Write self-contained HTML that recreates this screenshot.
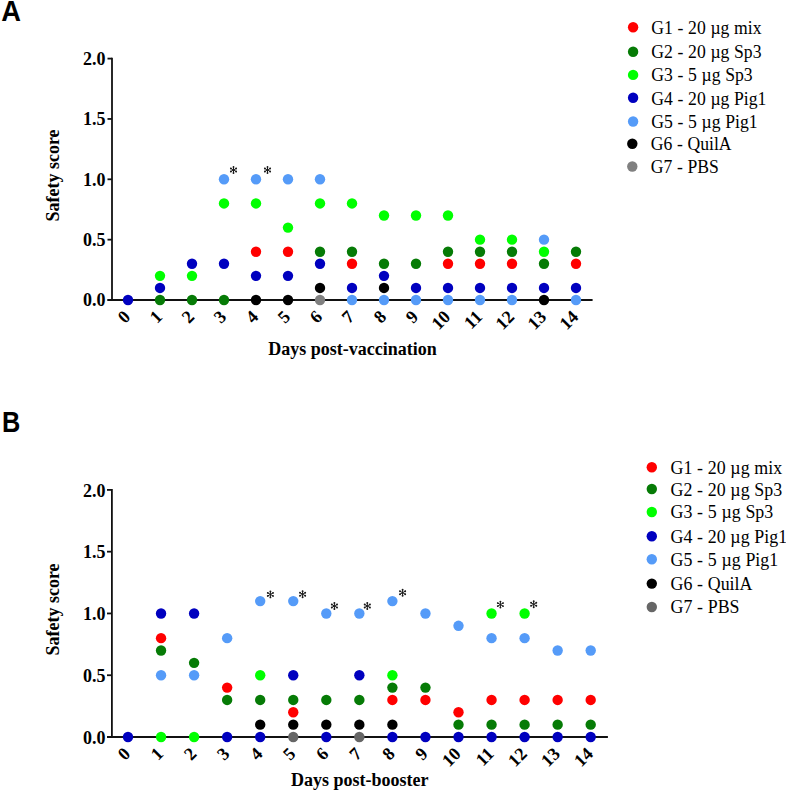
<!DOCTYPE html>
<html><head><meta charset="utf-8"><style>
html,body{margin:0;padding:0;background:#fff;}
body{width:786px;height:791px;overflow:hidden;}
svg{display:block;}
.yt{font-family:"Liberation Serif",serif;font-weight:bold;font-size:18px;text-anchor:end;fill:#000;}
.xt{font-family:"Liberation Serif",serif;font-weight:bold;font-size:18px;text-anchor:end;fill:#000;}
.ttl{font-family:"Liberation Serif",serif;font-weight:bold;font-size:18px;fill:#000;}
.lg{font-family:"Liberation Serif",serif;font-size:19.5px;word-spacing:0.3px;fill:#000;}
.pl{font-family:"Liberation Sans",sans-serif;font-weight:bold;font-size:28.6px;fill:#000;}
</style></head><body>
<svg width="786" height="791" viewBox="0 0 786 791">
<text class="pl" transform="translate(1.3 20.9) scale(0.955 1)">A</text>
<path d="M112 57.7V300" stroke="#111" stroke-width="1.8" fill="none"/>
<path d="M107.5 300H592.6" stroke="#111" stroke-width="1.8" fill="none"/>
<path d="M107.5 300H112" stroke="#111" stroke-width="1.8"/>
<text class="yt" x="105.5" y="306.4">0.0</text>
<path d="M107.5 239.65H112" stroke="#111" stroke-width="1.8"/>
<text class="yt" x="105.5" y="246.05">0.5</text>
<path d="M107.5 179.3H112" stroke="#111" stroke-width="1.8"/>
<text class="yt" x="105.5" y="185.7">1.0</text>
<path d="M107.5 118.95H112" stroke="#111" stroke-width="1.8"/>
<text class="yt" x="105.5" y="125.35">1.5</text>
<path d="M107.5 58.6H112" stroke="#111" stroke-width="1.8"/>
<text class="yt" x="105.5" y="65">2.0</text>
<text class="xt" transform="translate(131.4 318) rotate(-45)">0</text>
<text class="xt" transform="translate(163.4 318) rotate(-45)">1</text>
<text class="xt" transform="translate(195.4 318) rotate(-45)">2</text>
<text class="xt" transform="translate(227.4 318) rotate(-45)">3</text>
<text class="xt" transform="translate(259.4 318) rotate(-45)">4</text>
<text class="xt" transform="translate(291.4 318) rotate(-45)">5</text>
<text class="xt" transform="translate(323.4 318) rotate(-45)">6</text>
<text class="xt" transform="translate(355.4 318) rotate(-45)">7</text>
<text class="xt" transform="translate(387.4 318) rotate(-45)">8</text>
<text class="xt" transform="translate(419.4 318) rotate(-45)">9</text>
<text class="xt" transform="translate(451.4 318) rotate(-45)">10</text>
<text class="xt" transform="translate(483.4 318) rotate(-45)">11</text>
<text class="xt" transform="translate(515.4 318) rotate(-45)">12</text>
<text class="xt" transform="translate(547.4 318) rotate(-45)">13</text>
<text class="xt" transform="translate(579.4 318) rotate(-45)">14</text>
<text class="ttl" x="352.5" y="354.5" text-anchor="middle">Days post-vaccination</text>
<text class="ttl" transform="translate(59 175.5) rotate(-90)" text-anchor="middle">Safety score</text>
<circle cx="128" cy="300" r="5.2" fill="#0000bf"/>
<circle cx="160" cy="275.86" r="5.2" fill="#00ff00"/>
<circle cx="160" cy="287.93" r="5.2" fill="#0000bf"/>
<circle cx="160" cy="300" r="5.2" fill="#067b06"/>
<circle cx="192" cy="263.79" r="5.2" fill="#0000bf"/>
<circle cx="192" cy="275.86" r="5.2" fill="#00ff00"/>
<circle cx="192" cy="300" r="5.2" fill="#067b06"/>
<circle cx="224" cy="179.3" r="5.2" fill="#559bf8"/>
<circle cx="224" cy="203.44" r="5.2" fill="#00ff00"/>
<circle cx="224" cy="263.79" r="5.2" fill="#0000bf"/>
<circle cx="224" cy="300" r="5.2" fill="#067b06"/>
<circle cx="256" cy="179.3" r="5.2" fill="#559bf8"/>
<circle cx="256" cy="203.44" r="5.2" fill="#00ff00"/>
<circle cx="256" cy="251.72" r="5.2" fill="#ff0000"/>
<circle cx="256" cy="275.86" r="5.2" fill="#0000bf"/>
<circle cx="256" cy="300" r="5.2" fill="#000000"/>
<circle cx="288" cy="179.3" r="5.2" fill="#559bf8"/>
<circle cx="288" cy="227.58" r="5.2" fill="#00ff00"/>
<circle cx="288" cy="251.72" r="5.2" fill="#ff0000"/>
<circle cx="288" cy="275.86" r="5.2" fill="#0000bf"/>
<circle cx="288" cy="300" r="5.2" fill="#000000"/>
<circle cx="320" cy="179.3" r="5.2" fill="#559bf8"/>
<circle cx="320" cy="203.44" r="5.2" fill="#00ff00"/>
<circle cx="320" cy="251.72" r="5.2" fill="#067b06"/>
<circle cx="320" cy="263.79" r="5.2" fill="#0000bf"/>
<circle cx="320" cy="287.93" r="5.2" fill="#000000"/>
<circle cx="320" cy="300" r="5.2" fill="#808080"/>
<circle cx="352" cy="203.44" r="5.2" fill="#00ff00"/>
<circle cx="352" cy="251.72" r="5.2" fill="#067b06"/>
<circle cx="352" cy="263.79" r="5.2" fill="#ff0000"/>
<circle cx="352" cy="287.93" r="5.2" fill="#0000bf"/>
<circle cx="352" cy="300" r="5.2" fill="#559bf8"/>
<circle cx="384" cy="215.51" r="5.2" fill="#00ff00"/>
<circle cx="384" cy="263.79" r="5.2" fill="#067b06"/>
<circle cx="384" cy="275.86" r="5.2" fill="#0000bf"/>
<circle cx="384" cy="287.93" r="5.2" fill="#000000"/>
<circle cx="384" cy="300" r="5.2" fill="#559bf8"/>
<circle cx="416" cy="215.51" r="5.2" fill="#00ff00"/>
<circle cx="416" cy="263.79" r="5.2" fill="#067b06"/>
<circle cx="416" cy="287.93" r="5.2" fill="#0000bf"/>
<circle cx="416" cy="300" r="5.2" fill="#559bf8"/>
<circle cx="448" cy="215.51" r="5.2" fill="#00ff00"/>
<circle cx="448" cy="251.72" r="5.2" fill="#067b06"/>
<circle cx="448" cy="263.79" r="5.2" fill="#ff0000"/>
<circle cx="448" cy="287.93" r="5.2" fill="#0000bf"/>
<circle cx="448" cy="300" r="5.2" fill="#559bf8"/>
<circle cx="480" cy="239.65" r="5.2" fill="#00ff00"/>
<circle cx="480" cy="251.72" r="5.2" fill="#067b06"/>
<circle cx="480" cy="263.79" r="5.2" fill="#ff0000"/>
<circle cx="480" cy="287.93" r="5.2" fill="#0000bf"/>
<circle cx="480" cy="300" r="5.2" fill="#559bf8"/>
<circle cx="512" cy="239.65" r="5.2" fill="#00ff00"/>
<circle cx="512" cy="251.72" r="5.2" fill="#067b06"/>
<circle cx="512" cy="263.79" r="5.2" fill="#ff0000"/>
<circle cx="512" cy="287.93" r="5.2" fill="#0000bf"/>
<circle cx="512" cy="300" r="5.2" fill="#559bf8"/>
<circle cx="544" cy="239.65" r="5.2" fill="#559bf8"/>
<circle cx="544" cy="251.72" r="5.2" fill="#00ff00"/>
<circle cx="544" cy="263.79" r="5.2" fill="#067b06"/>
<circle cx="544" cy="287.93" r="5.2" fill="#0000bf"/>
<circle cx="544" cy="300" r="5.2" fill="#000000"/>
<circle cx="576" cy="251.72" r="5.2" fill="#067b06"/>
<circle cx="576" cy="263.79" r="5.2" fill="#ff0000"/>
<circle cx="576" cy="287.93" r="5.2" fill="#0000bf"/>
<circle cx="576" cy="300" r="5.2" fill="#559bf8"/>
<path d="M233.5 167L233.5 173M230.9 168.5L236.1 171.5M230.9 171.5L236.1 168.5" stroke="#1a1a1a" stroke-width="1.0" stroke-linecap="round"/><circle cx="233.5" cy="167" r="0.95" fill="#1a1a1a"/><circle cx="233.5" cy="173" r="0.95" fill="#1a1a1a"/><circle cx="230.9" cy="168.5" r="0.95" fill="#1a1a1a"/><circle cx="236.1" cy="171.5" r="0.95" fill="#1a1a1a"/><circle cx="230.9" cy="171.5" r="0.95" fill="#1a1a1a"/><circle cx="236.1" cy="168.5" r="0.95" fill="#1a1a1a"/>
<path d="M267.5 167L267.5 173M264.9 168.5L270.1 171.5M264.9 171.5L270.1 168.5" stroke="#1a1a1a" stroke-width="1.0" stroke-linecap="round"/><circle cx="267.5" cy="167" r="0.95" fill="#1a1a1a"/><circle cx="267.5" cy="173" r="0.95" fill="#1a1a1a"/><circle cx="264.9" cy="168.5" r="0.95" fill="#1a1a1a"/><circle cx="270.1" cy="171.5" r="0.95" fill="#1a1a1a"/><circle cx="264.9" cy="171.5" r="0.95" fill="#1a1a1a"/><circle cx="270.1" cy="168.5" r="0.95" fill="#1a1a1a"/>
<circle cx="633.1" cy="27.2" r="5.2" fill="#ff0000"/>
<text class="lg" transform="translate(651.3 34) scale(0.905 1)">G1 - 20 µg mix</text>
<circle cx="633.1" cy="51.7" r="5.2" fill="#067b06"/>
<text class="lg" transform="translate(651.3 58.2) scale(0.905 1)">G2 - 20 µg Sp3</text>
<circle cx="633.1" cy="74.9" r="5.2" fill="#00ff00"/>
<text class="lg" transform="translate(651.3 81) scale(0.905 1)">G3 - 5 µg Sp3</text>
<circle cx="633.1" cy="97.7" r="5.2" fill="#0000bf"/>
<text class="lg" transform="translate(651.3 104.6) scale(0.905 1)">G4 - 20 µg Pig1</text>
<circle cx="633.1" cy="121.5" r="5.2" fill="#559bf8"/>
<text class="lg" transform="translate(651.3 128.1) scale(0.905 1)">G5 - 5 µg Pig1</text>
<circle cx="632.3" cy="143.7" r="5.2" fill="#000000"/>
<text class="lg" transform="translate(650.7 149.7) scale(0.905 1)">G6 - QuilA</text>
<circle cx="632.3" cy="166.5" r="5.2" fill="#808080"/>
<text class="lg" transform="translate(650.7 172.5) scale(0.905 1)">G7 - PBS</text>
<text class="pl" transform="translate(1.9 431.5) scale(0.885 1)">B</text>
<path d="M111.9 489V737" stroke="#111" stroke-width="1.8" fill="none"/>
<path d="M107 737H607.9" stroke="#111" stroke-width="1.8" fill="none"/>
<path d="M107 737H111.9" stroke="#111" stroke-width="1.8"/>
<text class="yt" x="105.5" y="743.6">0.0</text>
<path d="M107 675.23H111.9" stroke="#111" stroke-width="1.8"/>
<text class="yt" x="105.5" y="681.83">0.5</text>
<path d="M107 613.45H111.9" stroke="#111" stroke-width="1.8"/>
<text class="yt" x="105.5" y="620.05">1.0</text>
<path d="M107 551.67H111.9" stroke="#111" stroke-width="1.8"/>
<text class="yt" x="105.5" y="558.27">1.5</text>
<path d="M107 489.9H111.9" stroke="#111" stroke-width="1.8"/>
<text class="yt" x="105.5" y="496.5">2.0</text>
<text class="xt" transform="translate(131.4 755) rotate(-45)">0</text>
<text class="xt" transform="translate(164.45 755) rotate(-45)">1</text>
<text class="xt" transform="translate(197.5 755) rotate(-45)">2</text>
<text class="xt" transform="translate(230.55 755) rotate(-45)">3</text>
<text class="xt" transform="translate(263.6 755) rotate(-45)">4</text>
<text class="xt" transform="translate(296.65 755) rotate(-45)">5</text>
<text class="xt" transform="translate(329.7 755) rotate(-45)">6</text>
<text class="xt" transform="translate(362.75 755) rotate(-45)">7</text>
<text class="xt" transform="translate(395.8 755) rotate(-45)">8</text>
<text class="xt" transform="translate(428.85 755) rotate(-45)">9</text>
<text class="xt" transform="translate(461.9 755) rotate(-45)">10</text>
<text class="xt" transform="translate(494.95 755) rotate(-45)">11</text>
<text class="xt" transform="translate(528 755) rotate(-45)">12</text>
<text class="xt" transform="translate(561.05 755) rotate(-45)">13</text>
<text class="xt" transform="translate(594.1 755) rotate(-45)">14</text>
<text class="ttl" x="359.7" y="785.9" text-anchor="middle">Days post-booster</text>
<text class="ttl" transform="translate(59 609.5) rotate(-90)" text-anchor="middle">Safety score</text>
<circle cx="128" cy="737" r="5.2" fill="#0000bf"/>
<circle cx="161.05" cy="613.45" r="5.2" fill="#0000bf"/>
<circle cx="161.05" cy="638.16" r="5.2" fill="#ff0000"/>
<circle cx="161.05" cy="650.51" r="5.2" fill="#067b06"/>
<circle cx="161.05" cy="675.23" r="5.2" fill="#559bf8"/>
<circle cx="161.05" cy="737" r="5.2" fill="#00ff00"/>
<circle cx="194.1" cy="613.45" r="5.2" fill="#0000bf"/>
<circle cx="194.1" cy="662.87" r="5.2" fill="#067b06"/>
<circle cx="194.1" cy="675.23" r="5.2" fill="#559bf8"/>
<circle cx="194.1" cy="737" r="5.2" fill="#00ff00"/>
<circle cx="227.15" cy="638.16" r="5.2" fill="#559bf8"/>
<circle cx="227.15" cy="687.58" r="5.2" fill="#ff0000"/>
<circle cx="227.15" cy="699.93" r="5.2" fill="#067b06"/>
<circle cx="227.15" cy="737" r="5.2" fill="#0000bf"/>
<circle cx="260.2" cy="601.1" r="5.2" fill="#559bf8"/>
<circle cx="260.2" cy="675.23" r="5.2" fill="#00ff00"/>
<circle cx="260.2" cy="699.93" r="5.2" fill="#067b06"/>
<circle cx="260.2" cy="724.64" r="5.2" fill="#000000"/>
<circle cx="260.2" cy="737" r="5.2" fill="#0000bf"/>
<circle cx="293.25" cy="601.1" r="5.2" fill="#559bf8"/>
<circle cx="293.25" cy="675.23" r="5.2" fill="#0000bf"/>
<circle cx="293.25" cy="699.93" r="5.2" fill="#067b06"/>
<circle cx="293.25" cy="712.29" r="5.2" fill="#ff0000"/>
<circle cx="293.25" cy="724.64" r="5.2" fill="#000000"/>
<circle cx="293.25" cy="737" r="5.2" fill="#666666"/>
<circle cx="326.3" cy="613.45" r="5.2" fill="#559bf8"/>
<circle cx="326.3" cy="699.93" r="5.2" fill="#067b06"/>
<circle cx="326.3" cy="724.64" r="5.2" fill="#000000"/>
<circle cx="326.3" cy="737" r="5.2" fill="#0000bf"/>
<circle cx="359.35" cy="613.45" r="5.2" fill="#559bf8"/>
<circle cx="359.35" cy="675.23" r="5.2" fill="#0000bf"/>
<circle cx="359.35" cy="699.93" r="5.2" fill="#067b06"/>
<circle cx="359.35" cy="724.64" r="5.2" fill="#000000"/>
<circle cx="359.35" cy="737" r="5.2" fill="#666666"/>
<circle cx="392.4" cy="601.1" r="5.2" fill="#559bf8"/>
<circle cx="392.4" cy="675.23" r="5.2" fill="#00ff00"/>
<circle cx="392.4" cy="687.58" r="5.2" fill="#067b06"/>
<circle cx="392.4" cy="699.93" r="5.2" fill="#ff0000"/>
<circle cx="392.4" cy="724.64" r="5.2" fill="#000000"/>
<circle cx="392.4" cy="737" r="5.2" fill="#0000bf"/>
<circle cx="425.45" cy="613.45" r="5.2" fill="#559bf8"/>
<circle cx="425.45" cy="687.58" r="5.2" fill="#067b06"/>
<circle cx="425.45" cy="699.93" r="5.2" fill="#ff0000"/>
<circle cx="425.45" cy="737" r="5.2" fill="#0000bf"/>
<circle cx="458.5" cy="625.81" r="5.2" fill="#559bf8"/>
<circle cx="458.5" cy="712.29" r="5.2" fill="#ff0000"/>
<circle cx="458.5" cy="724.64" r="5.2" fill="#067b06"/>
<circle cx="458.5" cy="737" r="5.2" fill="#0000bf"/>
<circle cx="491.55" cy="613.45" r="5.2" fill="#00ff00"/>
<circle cx="491.55" cy="638.16" r="5.2" fill="#559bf8"/>
<circle cx="491.55" cy="699.93" r="5.2" fill="#ff0000"/>
<circle cx="491.55" cy="724.64" r="5.2" fill="#067b06"/>
<circle cx="491.55" cy="737" r="5.2" fill="#0000bf"/>
<circle cx="524.6" cy="613.45" r="5.2" fill="#00ff00"/>
<circle cx="524.6" cy="638.16" r="5.2" fill="#559bf8"/>
<circle cx="524.6" cy="699.93" r="5.2" fill="#ff0000"/>
<circle cx="524.6" cy="724.64" r="5.2" fill="#067b06"/>
<circle cx="524.6" cy="737" r="5.2" fill="#0000bf"/>
<circle cx="557.65" cy="650.51" r="5.2" fill="#559bf8"/>
<circle cx="557.65" cy="699.93" r="5.2" fill="#ff0000"/>
<circle cx="557.65" cy="724.64" r="5.2" fill="#067b06"/>
<circle cx="557.65" cy="737" r="5.2" fill="#0000bf"/>
<circle cx="590.7" cy="650.51" r="5.2" fill="#559bf8"/>
<circle cx="590.7" cy="699.93" r="5.2" fill="#ff0000"/>
<circle cx="590.7" cy="724.64" r="5.2" fill="#067b06"/>
<circle cx="590.7" cy="737" r="5.2" fill="#0000bf"/>
<path d="M270.4 591.4L270.4 597.4M267.8 592.9L273 595.9M267.8 595.9L273 592.9" stroke="#1a1a1a" stroke-width="1.0" stroke-linecap="round"/><circle cx="270.4" cy="591.4" r="0.95" fill="#1a1a1a"/><circle cx="270.4" cy="597.4" r="0.95" fill="#1a1a1a"/><circle cx="267.8" cy="592.9" r="0.95" fill="#1a1a1a"/><circle cx="273" cy="595.9" r="0.95" fill="#1a1a1a"/><circle cx="267.8" cy="595.9" r="0.95" fill="#1a1a1a"/><circle cx="273" cy="592.9" r="0.95" fill="#1a1a1a"/>
<path d="M302.6 591.2L302.6 597.2M300 592.7L305.2 595.7M300 595.7L305.2 592.7" stroke="#1a1a1a" stroke-width="1.0" stroke-linecap="round"/><circle cx="302.6" cy="591.2" r="0.95" fill="#1a1a1a"/><circle cx="302.6" cy="597.2" r="0.95" fill="#1a1a1a"/><circle cx="300" cy="592.7" r="0.95" fill="#1a1a1a"/><circle cx="305.2" cy="595.7" r="0.95" fill="#1a1a1a"/><circle cx="300" cy="595.7" r="0.95" fill="#1a1a1a"/><circle cx="305.2" cy="592.7" r="0.95" fill="#1a1a1a"/>
<path d="M334.4 603L334.4 609M331.8 604.5L337 607.5M331.8 607.5L337 604.5" stroke="#1a1a1a" stroke-width="1.0" stroke-linecap="round"/><circle cx="334.4" cy="603" r="0.95" fill="#1a1a1a"/><circle cx="334.4" cy="609" r="0.95" fill="#1a1a1a"/><circle cx="331.8" cy="604.5" r="0.95" fill="#1a1a1a"/><circle cx="337" cy="607.5" r="0.95" fill="#1a1a1a"/><circle cx="331.8" cy="607.5" r="0.95" fill="#1a1a1a"/><circle cx="337" cy="604.5" r="0.95" fill="#1a1a1a"/>
<path d="M367.3 603L367.3 609M364.7 604.5L369.9 607.5M364.7 607.5L369.9 604.5" stroke="#1a1a1a" stroke-width="1.0" stroke-linecap="round"/><circle cx="367.3" cy="603" r="0.95" fill="#1a1a1a"/><circle cx="367.3" cy="609" r="0.95" fill="#1a1a1a"/><circle cx="364.7" cy="604.5" r="0.95" fill="#1a1a1a"/><circle cx="369.9" cy="607.5" r="0.95" fill="#1a1a1a"/><circle cx="364.7" cy="607.5" r="0.95" fill="#1a1a1a"/><circle cx="369.9" cy="604.5" r="0.95" fill="#1a1a1a"/>
<path d="M402.6 589.7L402.6 595.7M400 591.2L405.2 594.2M400 594.2L405.2 591.2" stroke="#1a1a1a" stroke-width="1.0" stroke-linecap="round"/><circle cx="402.6" cy="589.7" r="0.95" fill="#1a1a1a"/><circle cx="402.6" cy="595.7" r="0.95" fill="#1a1a1a"/><circle cx="400" cy="591.2" r="0.95" fill="#1a1a1a"/><circle cx="405.2" cy="594.2" r="0.95" fill="#1a1a1a"/><circle cx="400" cy="594.2" r="0.95" fill="#1a1a1a"/><circle cx="405.2" cy="591.2" r="0.95" fill="#1a1a1a"/>
<path d="M500.4 601.6L500.4 607.6M497.8 603.1L503 606.1M497.8 606.1L503 603.1" stroke="#1a1a1a" stroke-width="1.0" stroke-linecap="round"/><circle cx="500.4" cy="601.6" r="0.95" fill="#1a1a1a"/><circle cx="500.4" cy="607.6" r="0.95" fill="#1a1a1a"/><circle cx="497.8" cy="603.1" r="0.95" fill="#1a1a1a"/><circle cx="503" cy="606.1" r="0.95" fill="#1a1a1a"/><circle cx="497.8" cy="606.1" r="0.95" fill="#1a1a1a"/><circle cx="503" cy="603.1" r="0.95" fill="#1a1a1a"/>
<path d="M533.7 601.3L533.7 607.3M531.1 602.8L536.3 605.8M531.1 605.8L536.3 602.8" stroke="#1a1a1a" stroke-width="1.0" stroke-linecap="round"/><circle cx="533.7" cy="601.3" r="0.95" fill="#1a1a1a"/><circle cx="533.7" cy="607.3" r="0.95" fill="#1a1a1a"/><circle cx="531.1" cy="602.8" r="0.95" fill="#1a1a1a"/><circle cx="536.3" cy="605.8" r="0.95" fill="#1a1a1a"/><circle cx="531.1" cy="605.8" r="0.95" fill="#1a1a1a"/><circle cx="536.3" cy="602.8" r="0.95" fill="#1a1a1a"/>
<circle cx="651.8" cy="467.2" r="5.2" fill="#ff0000"/>
<text class="lg" transform="translate(670.5 474) scale(0.917 1)">G1 - 20 µg mix</text>
<circle cx="651.8" cy="489" r="5.2" fill="#067b06"/>
<text class="lg" transform="translate(670.5 495.5) scale(0.917 1)">G2 - 20 µg Sp3</text>
<circle cx="651.8" cy="512" r="5.2" fill="#00ff00"/>
<text class="lg" transform="translate(670.5 518.4) scale(0.917 1)">G3 - 5 µg Sp3</text>
<circle cx="651.8" cy="536.2" r="5.2" fill="#0000bf"/>
<text class="lg" transform="translate(670.5 543) scale(0.917 1)">G4 - 20 µg Pig1</text>
<circle cx="651.8" cy="559.3" r="5.2" fill="#559bf8"/>
<text class="lg" transform="translate(670.5 566.3) scale(0.917 1)">G5 - 5 µg Pig1</text>
<circle cx="651.8" cy="583.6" r="5.2" fill="#000000"/>
<text class="lg" transform="translate(670.5 589.6) scale(0.917 1)">G6 - QuilA</text>
<circle cx="651.8" cy="607" r="5.2" fill="#666666"/>
<text class="lg" transform="translate(670.5 612.9) scale(0.917 1)">G7 - PBS</text>
</svg>
</body></html>
